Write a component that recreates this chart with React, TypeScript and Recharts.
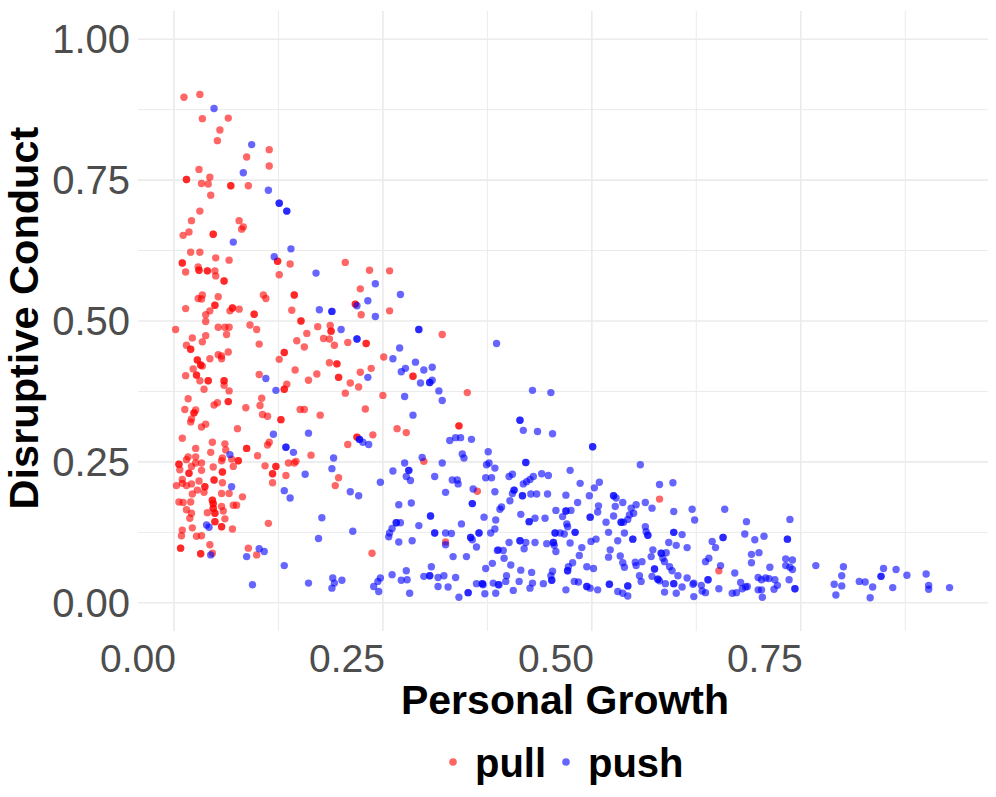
import React from "react";
import { ScatterChart, Scatter, XAxis, YAxis, CartesianGrid } from "recharts";

// Personal Growth (x) vs Disruptive Conduct (y).
// Darker (overlapping) dots are listed twice.
const pullPoints: number[][] = [
  [0.012,0.897],[0.031,0.902],[0.034,0.859],[0.065,0.860],[0.055,0.839],[0.052,0.820],[0.114,0.804],[0.087,0.791],
  [0.114,0.775],[0.030,0.769],[0.043,0.755],[0.015,0.751],[0.015,0.751],[0.033,0.744],[0.041,0.743],[0.068,0.740],
  [0.068,0.740],[0.089,0.740],[0.044,0.723],[0.031,0.695],[0.021,0.678],[0.078,0.678],[0.083,0.667],[0.081,0.663],
  [0.018,0.658],[0.011,0.652],[0.047,0.654],[0.047,0.654],[0.020,0.622],[0.031,0.622],[0.050,0.612],[0.066,0.608],
  [0.124,0.606],[0.124,0.606],[0.139,0.601],[0.010,0.603],[0.010,0.603],[0.014,0.587],[0.030,0.590],[0.030,0.590],
  [0.040,0.589],[0.040,0.589],[0.049,0.589],[0.050,0.580],[0.029,0.596],[0.060,0.571],[0.060,0.571],[0.126,0.582],
  [0.144,0.546],[0.144,0.546],[0.029,0.540],[0.034,0.546],[0.033,0.539],[0.053,0.543],[0.107,0.546],[0.110,0.540],
  [0.014,0.522],[0.049,0.528],[0.049,0.528],[0.070,0.523],[0.070,0.523],[0.078,0.521],[0.067,0.518],[0.043,0.518],
  [0.038,0.511],[0.096,0.512],[0.096,0.512],[0.141,0.519],[0.152,0.500],[0.152,0.500],[0.038,0.499],[0.091,0.493],
  [0.099,0.485],[0.002,0.485],[0.053,0.489],[0.061,0.489],[0.066,0.489],
  [0.063,0.476],[0.038,0.474],[0.022,0.470],[0.034,0.463],[0.015,0.457],[0.020,0.450],[0.020,0.450],[0.102,0.459],
  [0.132,0.444],[0.132,0.444],[0.126,0.432],[0.147,0.465],[0.156,0.454],[0.159,0.478],[0.065,0.445],[0.057,0.438],
  [0.053,0.440],[0.057,0.433],[0.043,0.433],[0.028,0.431],[0.028,0.431],[0.032,0.422],[0.032,0.422],[0.034,0.420],
  [0.023,0.415],[0.027,0.404],[0.027,0.404],[0.014,0.403],[0.031,0.394],[0.041,0.394],[0.041,0.394],[0.060,0.394],
  [0.060,0.394],[0.060,0.386],[0.036,0.379],[0.066,0.376],[0.102,0.405],[0.135,0.388],[0.132,0.379],[0.132,0.379],
  [0.145,0.413],[0.161,0.395],[0.017,0.362],[0.013,0.343],[0.024,0.337],[0.024,0.337],[0.026,0.342],[0.020,0.321],
  [0.021,0.326],[0.038,0.317],[0.033,0.312],[0.048,0.351],[0.052,0.355],[0.065,0.357],[0.065,0.357],[0.086,0.346],
  [0.105,0.363],[0.103,0.350],[0.106,0.334],[0.112,0.331],[0.128,0.325],[0.128,0.325],[0.151,0.343],[0.156,0.343],
  [0.076,0.309],[0.010,0.292],[0.046,0.285],[0.061,0.282],[0.026,0.274],[0.044,0.267],[0.062,0.271],[0.087,0.274],
  [0.087,0.274],[0.114,0.285],[0.112,0.280],[0.100,0.261],[0.058,0.257],[0.057,0.252],[0.069,0.255],[0.077,0.252],
  [0.077,0.252],[0.006,0.246],[0.006,0.246],[0.017,0.259],[0.015,0.254],[0.026,0.259],[0.018,0.230],[0.018,0.230],
  [0.026,0.248],[0.033,0.248],[0.021,0.242],[0.033,0.235],[0.047,0.241],[0.007,0.236],[0.058,0.232],[0.058,0.232],
  [0.071,0.242],[0.109,0.243],[0.122,0.242],[0.122,0.242],[0.118,0.229],[0.118,0.229],[0.137,0.248],[0.144,0.248],
  [0.146,0.251],[0.134,0.226],[0.010,0.219],[0.010,0.212],[0.003,0.208],[0.015,0.208],[0.021,0.211],[0.030,0.216],
  [0.028,0.200],[0.037,0.206],[0.037,0.206],[0.048,0.218],[0.048,0.218],[0.058,0.213],[0.036,0.196],[0.022,0.193],
  [0.057,0.194],[0.066,0.194],[0.082,0.188],[0.118,0.213],[0.006,0.179],[0.011,0.178],[0.015,0.165],[0.020,0.179],
  [0.046,0.182],[0.046,0.182],[0.047,0.176],[0.047,0.176],[0.047,0.168],[0.047,0.168],[0.057,0.171],[0.059,0.163],
  [0.071,0.173],[0.075,0.173],[0.040,0.160],[0.019,0.150],[0.021,0.159],[0.049,0.159],[0.049,0.159],[0.049,0.144],
  [0.049,0.144],[0.061,0.149],[0.113,0.141],[0.022,0.133],[0.057,0.135],[0.057,0.135],[0.070,0.131],[0.010,0.129],
  [0.009,0.119],[0.027,0.118],[0.033,0.119],[0.008,0.097],[0.008,0.097],[0.043,0.103],[0.032,0.087],[0.032,0.087],
  [0.046,0.088],[0.089,0.097],[0.099,0.085],
  [0.205,0.604],[0.234,0.590],[0.258,0.589],[0.223,0.557],[0.217,0.530],[0.217,0.530],[0.224,0.511],[0.258,0.518],
  [0.172,0.490],[0.187,0.492],[0.188,0.482],[0.188,0.482],[0.179,0.469],[0.186,0.468],[0.192,0.457],[0.208,0.462],
  [0.230,0.460],[0.230,0.460],[0.321,0.476],[0.251,0.436],[0.186,0.426],[0.195,0.424],[0.195,0.424],[0.236,0.416],
  [0.223,0.409],[0.171,0.406],[0.197,0.400],[0.197,0.400],[0.211,0.390],[0.221,0.383],[0.205,0.372],[0.250,0.368],
  [0.175,0.333],[0.229,0.344],[0.286,0.402],[0.286,0.402],[0.351,0.373],
  [0.219,0.294],[0.219,0.294],[0.208,0.281],[0.238,0.298],[0.267,0.309],[0.278,0.302],[0.341,0.314],[0.341,0.314],
  [0.164,0.262],[0.197,0.222],[0.193,0.208],[0.299,0.251],[0.363,0.198],[0.325,0.108],[0.237,0.088],
  [0.581,0.184],[0.652,0.057],
];

const pushPoints: number[][] = [
  [0.048,0.877],[0.093,0.813],[0.083,0.763],[0.113,0.732],[0.126,0.709],[0.126,0.709],[0.135,0.695],[0.135,0.695],
  [0.071,0.640],[0.140,0.628],[0.120,0.614],
  [0.110,0.398],[0.122,0.377],[0.119,0.299],[0.134,0.276],[0.134,0.276],[0.143,0.267],[0.161,0.301],[0.067,0.263],
  [0.157,0.228],[0.069,0.206],[0.132,0.199],[0.139,0.186],[0.039,0.138],[0.042,0.134],[0.044,0.085],[0.102,0.096],
  [0.108,0.091],[0.087,0.082],[0.132,0.066],[0.094,0.032],[0.161,0.035],
  [0.170,0.585],[0.241,0.566],[0.271,0.547],[0.232,0.536],[0.174,0.520],[0.189,0.517],[0.189,0.517],[0.219,0.527],
  [0.241,0.508],[0.200,0.485],[0.219,0.468],[0.219,0.468],[0.293,0.485],[0.293,0.485],[0.386,0.460],[0.270,0.452],
  [0.262,0.433],[0.232,0.400],[0.289,0.427],[0.277,0.416],[0.272,0.410],[0.299,0.413],[0.309,0.418],[0.295,0.390],
  [0.306,0.391],[0.306,0.391],[0.309,0.395],[0.317,0.376],[0.321,0.359],[0.276,0.366],[0.286,0.333],
  [0.222,0.290],[0.222,0.290],[0.226,0.285],[0.233,0.281],[0.330,0.288],[0.337,0.293],[0.343,0.293],[0.356,0.290],
  [0.191,0.257],[0.189,0.238],[0.211,0.197],[0.221,0.190],[0.247,0.214],[0.276,0.248],[0.281,0.235],[0.281,0.235],
  [0.297,0.258],[0.262,0.234],[0.278,0.224],[0.283,0.217],[0.312,0.224],[0.321,0.248],[0.345,0.264],[0.347,0.257],
  [0.333,0.218],[0.339,0.218],[0.340,0.211],[0.325,0.196],[0.358,0.202],[0.376,0.268],[0.377,0.248],[0.374,0.245],
  [0.384,0.239],[0.373,0.222],[0.380,0.222],[0.384,0.197],[0.357,0.176],[0.357,0.176],[0.269,0.174],[0.284,0.177],
  [0.307,0.154],[0.307,0.154],[0.371,0.152],[0.177,0.151],[0.266,0.142],[0.266,0.142],[0.271,0.142],[0.293,0.137],
  [0.344,0.140],[0.385,0.147],[0.261,0.132],[0.258,0.124],[0.257,0.117],[0.214,0.127],[0.173,0.114],[0.285,0.110],
  [0.269,0.108],[0.312,0.124],[0.312,0.124],[0.325,0.124],[0.332,0.123],[0.325,0.103],[0.355,0.116],[0.355,0.116],
  [0.357,0.112],[0.365,0.124],[0.365,0.124],[0.379,0.124],[0.384,0.131],[0.362,0.099],[0.388,0.094],[0.334,0.082],
  [0.350,0.082],[0.308,0.064],[0.278,0.057],[0.261,0.050],[0.299,0.047],[0.306,0.048],[0.306,0.048],[0.316,0.045],
  [0.323,0.048],[0.337,0.045],[0.373,0.061],[0.381,0.070],[0.272,0.040],[0.279,0.041],[0.247,0.044],[0.244,0.038],
  [0.239,0.029],[0.245,0.020],[0.190,0.044],[0.192,0.035],[0.189,0.026],[0.201,0.040],[0.282,0.017],[0.316,0.029],
  [0.328,0.028],[0.341,0.010],[0.352,0.018],[0.352,0.018],[0.362,0.034],[0.369,0.034],[0.369,0.034],[0.370,0.032],
  [0.382,0.035],[0.388,0.032],[0.372,0.016],
  [0.429,0.377],[0.451,0.373],[0.414,0.324],[0.414,0.324],[0.418,0.306],[0.435,0.304],[0.453,0.300],[0.501,0.277],
  [0.501,0.277],[0.558,0.245],[0.421,0.249],[0.421,0.249],[0.474,0.235],[0.401,0.224],[0.405,0.228],[0.422,0.215],
  [0.426,0.219],[0.430,0.224],[0.440,0.229],[0.448,0.226],[0.418,0.211],[0.486,0.212],[0.509,0.214],[0.503,0.204],
  [0.407,0.200],[0.407,0.200],[0.405,0.194],[0.417,0.190],[0.417,0.190],[0.427,0.193],[0.434,0.193],[0.447,0.193],
  [0.469,0.191],[0.497,0.190],[0.402,0.181],[0.526,0.190],[0.526,0.190],[0.529,0.186],[0.581,0.210],[0.597,0.213],
  [0.390,0.166],[0.392,0.170],[0.415,0.157],[0.425,0.144],[0.425,0.144],[0.432,0.150],[0.444,0.150],[0.457,0.164],
  [0.469,0.163],[0.469,0.163],[0.475,0.164],[0.465,0.153],[0.470,0.140],[0.471,0.135],[0.483,0.178],[0.508,0.172],
  [0.507,0.161],[0.498,0.152],[0.498,0.152],[0.517,0.143],[0.526,0.154],[0.528,0.171],[0.537,0.178],[0.535,0.143],
  [0.535,0.143],[0.538,0.143],[0.543,0.148],[0.545,0.156],[0.550,0.159],[0.553,0.174],[0.547,0.168],[0.564,0.178],
  [0.572,0.168],[0.598,0.162],[0.620,0.166],[0.623,0.147],[0.401,0.107],[0.414,0.110],[0.414,0.110],[0.421,0.107],
  [0.419,0.096],[0.432,0.107],[0.446,0.105],[0.454,0.107],[0.454,0.107],[0.455,0.102],[0.457,0.091],[0.456,0.124],
  [0.456,0.124],[0.462,0.124],[0.467,0.122],[0.480,0.125],[0.480,0.125],[0.474,0.106],[0.499,0.109],[0.505,0.113],
  [0.488,0.098],[0.485,0.084],[0.520,0.125],[0.539,0.124],[0.531,0.110],[0.549,0.113],[0.549,0.113],[0.564,0.135],
  [0.565,0.126],[0.567,0.120],[0.567,0.120],[0.592,0.107],[0.598,0.125],[0.598,0.125],[0.608,0.121],[0.601,0.102],
  [0.614,0.098],[0.522,0.094],[0.520,0.081],[0.534,0.083],[0.537,0.071],[0.539,0.063],[0.552,0.072],[0.553,0.066],
  [0.560,0.073],[0.573,0.094],[0.571,0.082],[0.583,0.088],[0.583,0.088],[0.589,0.089],[0.585,0.079],[0.587,0.073],
  [0.575,0.060],[0.575,0.060],[0.593,0.064],[0.596,0.057],[0.387,0.093],[0.394,0.093],[0.395,0.079],[0.403,0.067],
  [0.415,0.058],[0.428,0.054],[0.453,0.056],[0.451,0.048],[0.472,0.064],[0.471,0.057],[0.471,0.057],[0.477,0.071],
  [0.494,0.064],[0.502,0.061],[0.398,0.048],[0.397,0.038],[0.389,0.032],[0.385,0.017],[0.413,0.038],[0.406,0.022],
  [0.429,0.035],[0.426,0.026],[0.442,0.034],[0.452,0.040],[0.452,0.040],[0.469,0.023],[0.479,0.038],[0.484,0.037],
  [0.494,0.029],[0.494,0.029],[0.498,0.026],[0.507,0.023],[0.521,0.033],[0.521,0.033],[0.531,0.020],[0.537,0.017],
  [0.543,0.012],[0.543,0.030],[0.543,0.030],[0.557,0.048],[0.559,0.038],[0.572,0.047],[0.579,0.042],[0.579,0.042],
  [0.581,0.039],[0.588,0.034],[0.587,0.019],[0.598,0.034],[0.598,0.034],[0.601,0.017],[0.608,0.028],[0.614,0.044],
  [0.622,0.035],[0.622,0.011],[0.603,0.048],
  [0.659,0.166],[0.685,0.144],[0.737,0.148],[0.657,0.116],[0.657,0.116],[0.644,0.109],[0.648,0.098],[0.683,0.122],
  [0.695,0.112],[0.706,0.118],[0.734,0.113],[0.734,0.113],[0.691,0.086],[0.700,0.089],[0.691,0.071],[0.636,0.073],
  [0.640,0.079],[0.654,0.066],[0.671,0.053],[0.713,0.063],[0.732,0.078],[0.740,0.076],[0.732,0.066],[0.737,0.063],
  [0.740,0.059],[0.639,0.041],[0.639,0.041],[0.621,0.033],[0.631,0.031],[0.636,0.018],[0.632,0.021],[0.652,0.025],
  [0.668,0.017],[0.673,0.018],[0.678,0.036],[0.680,0.025],[0.684,0.028],[0.686,0.029],[0.699,0.045],[0.703,0.041],
  [0.708,0.044],[0.712,0.043],[0.719,0.041],[0.699,0.023],[0.703,0.023],[0.704,0.010],[0.718,0.024],[0.722,0.031],
  [0.736,0.041],[0.743,0.025],[0.743,0.025],[0.768,0.066],[0.801,0.064],[0.799,0.048],[0.790,0.033],[0.799,0.030],
  [0.792,0.014],[0.820,0.038],[0.827,0.037],[0.836,0.028],[0.833,0.009],[0.849,0.061],[0.864,0.059],[0.846,0.047],
  [0.846,0.047],[0.860,0.027],[0.877,0.049],[0.900,0.051],[0.903,0.031],[0.903,0.024],[0.928,0.027],
];

const xTicks = [0, 0.25, 0.5, 0.75];
const yTicks = [0, 0.25, 0.5, 0.75, 1];
const xMinor = [0.125, 0.375, 0.625, 0.875];
const yMinor = [0.125, 0.375, 0.625, 0.875];
const seriesNames = ["pull", "push"];

const RED = "#FF0000";
const BLUE = "#0000FF";
const FONT = "'Liberation Sans', Arial, Helvetica, sans-serif";

const pullData = pullPoints.map(([x, y]) => ({ x, y }));
const pushData = pushPoints.map(([x, y]) => ({ x, y }));

const makeDot = (color: string) => (props: any) => (
  <circle cx={props.cx} cy={props.cy} r={3.7} fill={color} fillOpacity={0.6} />
);

const XTick = ({ x, payload }: any) => (
  <text x={x + 2} y={672} textAnchor="end" fontSize={39} fill="#4D4D4D" fontFamily={FONT}>
    {payload.value.toFixed(2)}
  </text>
);

const YTick = ({ y, payload }: any) => (
  <text x={130} y={y + 14} textAnchor="end" fontSize={40} fill="#4D4D4D" fontFamily={FONT}>
    {payload.value.toFixed(2)}
  </text>
);

export default function App() {
  return (
    <div style={{ position: "absolute", left: 0, top: 0, width: 996, height: 797, background: "#fff" }}>
      <ScatterChart width={996} height={797} margin={{ top: 11, right: 8, bottom: 116, left: 0 }}>
        <CartesianGrid
          stroke="#EBEBEB"
          strokeWidth={1}
          horizontalValues={yMinor}
          verticalValues={xMinor}
        />
        <CartesianGrid
          stroke="#EBEBEB"
          strokeWidth={1.6}
          horizontalValues={yTicks}
          verticalValues={xTicks}
        />
        <XAxis
          type="number"
          dataKey="x"
          domain={[-0.043, 0.974]}
          ticks={xTicks}
          height={50}
          axisLine={false}
          tickLine={false}
          tick={<XTick />}
          allowDataOverflow
        />
        <YAxis
          type="number"
          dataKey="y"
          domain={[-0.05, 1.05]}
          ticks={yTicks}
          width={138}
          axisLine={false}
          tickLine={false}
          tick={<YTick />}
          allowDataOverflow
        />
        <Scatter name="pull" data={pullData} shape={makeDot(RED)} isAnimationActive={false} />
        <Scatter name="push" data={pushData} shape={makeDot(BLUE)} isAnimationActive={false} />
      </ScatterChart>

      {/* axis titles and legend */}
      <svg width={996} height={797} style={{ position: "absolute", left: 0, top: 0, pointerEvents: "none" }}>
        <text x={565} y={714} textAnchor="middle" fontSize={41} fontWeight="bold" fontFamily={FONT} fill="#000">
          Personal Growth
        </text>
        <text
          x={38}
          y={318}
          textAnchor="middle"
          fontSize={41.5}
          fontWeight="bold"
          fontFamily={FONT}
          fill="#000"
          transform="rotate(-90 38 318)"
        >
          Disruptive Conduct
        </text>
        <circle cx={453} cy={762} r={3.8} fill={RED} fillOpacity={0.6} />
        <text x={475} y={777} fontSize={40} fontWeight="bold" fontFamily={FONT} fill="#000">
          {seriesNames[0]}
        </text>
        <circle cx={566} cy={762} r={3.8} fill={BLUE} fillOpacity={0.6} />
        <text x={588} y={777} fontSize={40} fontWeight="bold" fontFamily={FONT} fill="#000">
          {seriesNames[1]}
        </text>
      </svg>
    </div>
  );
}
